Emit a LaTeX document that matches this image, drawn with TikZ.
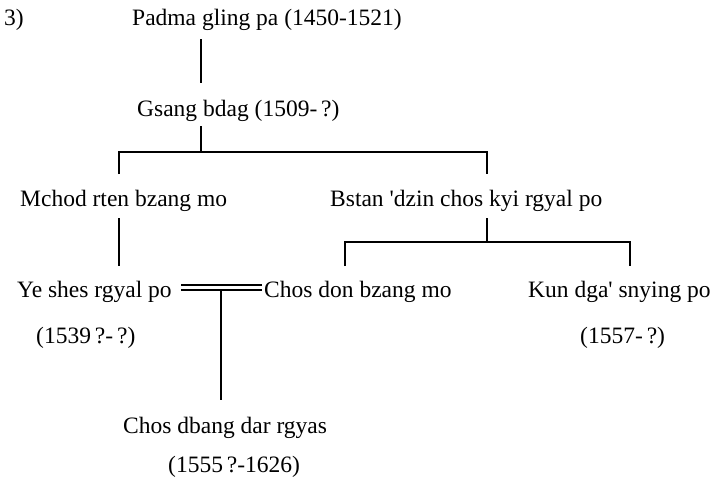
\documentclass[tikz,border=0pt]{standalone}
\usepackage{fontspec}
\setmainfont{Liberation Serif}[Ligatures=TeXOff]
\begin{document}
\begin{tikzpicture}[x=1pt,y=-1pt,
  lbl/.style={inner sep=0pt, anchor=base west, font=\fontsize{23.5}{27}\selectfont},
  link/.style={line width=1.5pt},
  marriage/.style={double distance=3pt, line width=1.6pt}]
\useasboundingbox (0,0) rectangle (714,483);
% texts
\node[lbl] (num) at (4,25) {3)};
\node[lbl] (padma) at (132,25) {Padma gling pa (1450-1521)};
\node[lbl] (gsang) at (137,116) {Gsang bdag (1509-\,?)};
\node[lbl] (mchod) at (20,206) {Mchod rten bzang mo};
\node[lbl] (bstan) at (330,206) {Bstan 'dzin chos kyi rgyal po};
\node[lbl] (yeshes) at (17,297) {Ye shes rgyal po};
\node[lbl] (chosdon) at (264,297) {Chos don bzang mo};
\node[lbl] (kun) at (528,297) {Kun dga' snying po};
\node[lbl] (yedate) at (36,343) {(1539\,?-\,?)};
\node[lbl] (kundate) at (580,343) {(1557-\,?)};
\node[lbl] (chosdbang) at (123,433) {Chos dbang dar rgyas};
\node[lbl] (cddate) at (168,472) {(1555\,?-1626)};
% junction points
\coordinate (p1) at (201,39);
\coordinate (p2) at (201,83);
\coordinate (g1) at (201,126);
\coordinate (g2) at (201,152);
\coordinate (gl) at (119,152);
\coordinate (gr) at (487,152);
\coordinate (gl2) at (119,174);
\coordinate (gr2) at (487,174);
\coordinate (m1) at (119,218);
\coordinate (m2) at (119,266);
\coordinate (b1) at (487,218);
\coordinate (b2) at (487,242);
\coordinate (bl) at (345,242);
\coordinate (br) at (630,242);
\coordinate (bl2) at (345,266);
\coordinate (br2) at (630,266);
\coordinate (w1) at (181,287.5);
\coordinate (w2) at (262,287.5);
\coordinate (c1) at (221,290);
\coordinate (c2) at (221,400);
% connectors
\draw[link] (p1) -- (p2);
\draw[link] (g1) -- (g2);
\draw[link] (gl2) -- (gl) -- (gr) -- (gr2);
\draw[link] (m1) -- (m2);
\draw[link] (b1) -- (b2);
\draw[link] (bl2) -- (bl) -- (br) -- (br2);
\draw[marriage] (w1) -- (w2);
\draw[link] (c1) -- (c2);
\end{tikzpicture}
\end{document}
